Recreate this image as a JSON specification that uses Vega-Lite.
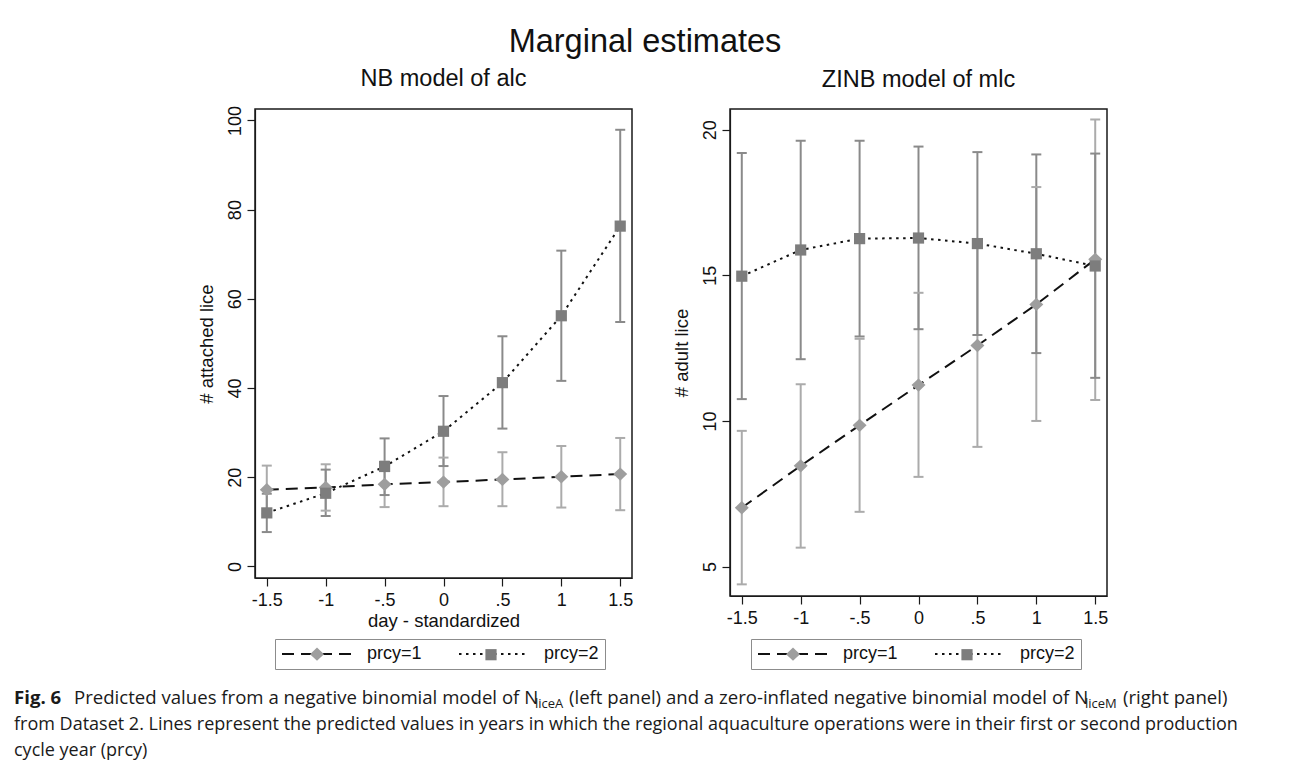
{
  "$schema": "https://vega.github.io/schema/vega-lite/v6.json",
  "padding": {"left": 14, "top": 25, "right": 5, "bottom": 5},
  "title": {"text": "Marginal estimates", "fontSize": 32.5, "anchor": "middle", "offset": 8, "fontWeight": "normal", "font": "Liberation Sans", "color": "#111"},
  "config": {
    "font": "Liberation Sans",
    "view": {"stroke": "#1a1a1a", "strokeWidth": 1.5},
    "axis": {"grid": false, "domainColor": "#1a1a1a", "tickColor": "#1a1a1a", "tickSize": 8, "tickWidth": 1.2, "domainWidth": 1.2,
             "labelFontSize": 18, "titleFontSize": 18.5, "titleFontWeight": "normal", "labelColor": "#111", "titleColor": "#111",
             "labelFont": "Liberation Sans", "titleFont": "Liberation Sans", "labelFlush": false, "labelOverlap": false},
    "title": {"font": "Liberation Sans", "fontWeight": "normal", "color": "#111"}
  },
  "datasets": {
    "alc": [
      {"day": -1.5, "prcy": "prcy=1", "est": 17.2, "lo": 11.8, "hi": 22.6},
      {"day": -1, "prcy": "prcy=1", "est": 17.7, "lo": 12.5, "hi": 22.9},
      {"day": -0.5, "prcy": "prcy=1", "est": 18.4, "lo": 13.3, "hi": 23.5},
      {"day": 0, "prcy": "prcy=1", "est": 18.9, "lo": 13.5, "hi": 24.4},
      {"day": 0.5, "prcy": "prcy=1", "est": 19.5, "lo": 13.5, "hi": 25.6},
      {"day": 1, "prcy": "prcy=1", "est": 20.1, "lo": 13.2, "hi": 27.0},
      {"day": 1.5, "prcy": "prcy=1", "est": 20.7, "lo": 12.6, "hi": 28.8},
      {"day": -1.5, "prcy": "prcy=2", "est": 12.0, "lo": 7.7, "hi": 16.3},
      {"day": -1, "prcy": "prcy=2", "est": 16.4, "lo": 11.3, "hi": 21.7},
      {"day": -0.5, "prcy": "prcy=2", "est": 22.4, "lo": 16.0, "hi": 28.7},
      {"day": 0, "prcy": "prcy=2", "est": 30.3, "lo": 22.5, "hi": 38.2},
      {"day": 0.5, "prcy": "prcy=2", "est": 41.2, "lo": 30.9, "hi": 51.6},
      {"day": 1, "prcy": "prcy=2", "est": 56.2, "lo": 41.6, "hi": 70.8},
      {"day": 1.5, "prcy": "prcy=2", "est": 76.3, "lo": 54.8, "hi": 97.9}
    ],
    "mlc": [
      {"day": -1.5, "prcy": "prcy=1", "est": 7.02, "lo": 4.39, "hi": 9.66},
      {"day": -1, "prcy": "prcy=1", "est": 8.46, "lo": 5.65, "hi": 11.26},
      {"day": -0.5, "prcy": "prcy=1", "est": 9.85, "lo": 6.88, "hi": 12.82},
      {"day": 0, "prcy": "prcy=1", "est": 11.23, "lo": 8.08, "hi": 14.4},
      {"day": 0.5, "prcy": "prcy=1", "est": 12.59, "lo": 9.11, "hi": 16.07},
      {"day": 1, "prcy": "prcy=1", "est": 14.0, "lo": 10.0, "hi": 18.03},
      {"day": 1.5, "prcy": "prcy=1", "est": 15.55, "lo": 10.72, "hi": 20.35},
      {"day": -1.5, "prcy": "prcy=2", "est": 14.97, "lo": 10.75, "hi": 19.2},
      {"day": -1, "prcy": "prcy=2", "est": 15.87, "lo": 12.12, "hi": 19.62},
      {"day": -0.5, "prcy": "prcy=2", "est": 16.26, "lo": 12.9, "hi": 19.62},
      {"day": 0, "prcy": "prcy=2", "est": 16.28, "lo": 13.15, "hi": 19.42},
      {"day": 0.5, "prcy": "prcy=2", "est": 16.09, "lo": 12.95, "hi": 19.23},
      {"day": 1, "prcy": "prcy=2", "est": 15.74, "lo": 12.33, "hi": 19.15},
      {"day": 1.5, "prcy": "prcy=2", "est": 15.32, "lo": 11.48, "hi": 19.18}
    ],
    "cap": [
      {"row": 1, "part": "fig", "text": "Fig. 6"},
      {"row": 1, "part": "a", "text": "Predicted values from a negative binomial model of N"},
      {"row": 1, "part": "subA", "text": "liceA"},
      {"row": 1, "part": "b", "text": "(left panel) and a zero-inflated negative binomial model of N"},
      {"row": 1, "part": "subM", "text": "liceM"},
      {"row": 1, "part": "c", "text": "(right panel)"},
      {"row": 2, "part": "l", "text": "from Dataset 2. Lines represent the predicted values in years in which the regional aquaculture operations were in their first or second production"},
      {"row": 3, "part": "l", "text": "cycle year (prcy)"}
    ]
  },
  "spacing": 17,
  "vconcat": [
    {
      "spacing": 37,
      "resolve": {
        "scale": {"strokeDash": "independent", "shape": "independent", "fill": "independent", "stroke": "independent"},
        "legend": {"strokeDash": "independent", "shape": "independent"}
      },
      "hconcat": [
        {
          "width": 145, "height": 20,
          "view": {"stroke": null},
          "data": {"values": [{}]},
          "mark": {"type": "text", "text": ""}
        },
        {
          "width": 377, "height": 469,
          "title": {"text": "NB model of alc", "fontSize": 23.5, "offset": 15},
          "data": {"name": "alc"},
          "layer": [
            {
              "mark": {"type": "rule", "strokeWidth": 2},
              "encoding": {
                "x": {"field": "day", "type": "quantitative", "scale": {"domain": [-1.6, 1.6], "nice": false, "zero": false},
                      "axis": {"values": [-1.5, -1, -0.5, 0, 0.5, 1, 1.5], "title": "day - standardized", "labelPadding": 5, "titlePadding": 2,
                               "labelExpr": "datum.value < 0 ? '-' + replace(format(-datum.value, '~g'), '0.', '.') : replace(format(datum.value, '~g'), '0.', '.')"}},
                "y": {"field": "lo", "type": "quantitative", "scale": {"domain": [-2.6, 102.56], "nice": false, "zero": false},
                      "axis": {"values": [0, 20, 40, 60, 80, 100], "title": "# attached lice", "labelAngle": 270, "labelAlign": "center", "labelBaseline": "bottom", "labelPadding": 3, "titlePadding": 10}},
                "y2": {"field": "hi"},
                "stroke": {"field": "prcy", "type": "nominal", "scale": {"range": ["#ababab", "#8a8a8a"]}, "legend": null}
              }
            },
            {
              "mark": {"type": "point", "shape": "stroke", "size": 100, "strokeWidth": 2, "filled": false, "opacity": 1},
              "encoding": {
                "x": {"field": "day", "type": "quantitative"},
                "y": {"field": "lo", "type": "quantitative"},
                "stroke": {"field": "prcy", "type": "nominal", "legend": null}
              }
            },
            {
              "mark": {"type": "point", "shape": "stroke", "size": 100, "strokeWidth": 2, "filled": false, "opacity": 1},
              "encoding": {
                "x": {"field": "day", "type": "quantitative"},
                "y": {"field": "hi", "type": "quantitative"},
                "stroke": {"field": "prcy", "type": "nominal", "legend": null}
              }
            },
            {
              "mark": {"type": "line", "strokeWidth": 2, "color": "#111"},
              "encoding": {
                "x": {"field": "day", "type": "quantitative"},
                "y": {"field": "est", "type": "quantitative"},
                "strokeDash": {"field": "prcy", "type": "nominal", "scale": {"domain": ["prcy=1", "prcy=2"], "range": [[12, 7], [2.5, 4.5]]},
                  "legend": {"orient": "none", "legendX": 20, "legendY": 530, "direction": "horizontal", "columns": 2, "title": null,
                             "strokeColor": "#8c8c8c", "fillColor": "white", "padding": 6, "columnPadding": 33, "labelOffset": 41, "symbolOffset": 27,
                             "labelFontSize": 18, "labelFont": "Liberation Sans", "labelColor": "#111",
                             "symbolSize": 196, "symbolType": "M-5,0H5", "symbolStrokeWidth": 2, "symbolStrokeColor": "#111",
                             "labelExpr": "datum.label == 'prcy=2' ? datum.label + ' ' : datum.label"}}
              }
            },
            {
              "mark": {"type": "point", "filled": true, "opacity": 1, "size": 196, "strokeWidth": 0},
              "encoding": {
                "x": {"field": "day", "type": "quantitative"},
                "y": {"field": "est", "type": "quantitative"},
                "fill": {"field": "prcy", "type": "nominal", "scale": {"range": ["#9e9e9e", "#7d7d7d"]}, "legend": null},
                "shape": {"field": "prcy", "type": "nominal", "scale": {"range": ["M-1,0L0,-0.95L1,0L0,0.95Z", "M-0.8,-0.8H0.8V0.8H-0.8Z"]},
                  "legend": {"orient": "none", "legendX": 20, "legendY": 530, "direction": "horizontal", "columns": 2, "title": null,
                             "padding": 6, "columnPadding": 33, "labelOffset": 41, "symbolOffset": 27,
                             "labelFontSize": 18, "labelFont": "Liberation Sans", "labelOpacity": 0,
                             "symbolSize": 196, "symbolStrokeWidth": 2, "symbolStrokeColor": "transparent",
                             "labelExpr": "datum.label == 'prcy=2' ? datum.label + ' ' : datum.label",
                             "encode": {"symbols": {"update": {
                               "fill": {"signal": "datum.value == 'prcy=1' ? '#9e9e9e' : '#7d7d7d'"},
                               "fillOpacity": {"value": 1},
                               "strokeWidth": {"value": 0}}}}}}
              }
            }
          ]
        },
        {
          "width": 377, "height": 487,
          "title": {"text": "ZINB model of mlc", "fontSize": 23.5, "offset": 18},
          "data": {"name": "mlc"},
          "layer": [
            {
              "mark": {"type": "rule", "strokeWidth": 2},
              "encoding": {
                "x": {"field": "day", "type": "quantitative", "scale": {"domain": [-1.6, 1.6], "nice": false, "zero": false},
                      "axis": {"values": [-1.5, -1, -0.5, 0, 0.5, 1, 1.5], "title": null, "labelPadding": 5,
                               "labelExpr": "datum.value < 0 ? '-' + replace(format(-datum.value, '~g'), '0.', '.') : replace(format(datum.value, '~g'), '0.', '.')"}},
                "y": {"field": "lo", "type": "quantitative", "scale": {"domain": [3.99, 20.71], "nice": false, "zero": false},
                      "axis": {"values": [5, 10, 15, 20], "title": "# adult lice", "labelAngle": 270, "labelAlign": "center", "labelBaseline": "bottom", "labelPadding": 3, "titlePadding": 10}},
                "y2": {"field": "hi"},
                "stroke": {"field": "prcy", "type": "nominal", "scale": {"range": ["#ababab", "#8a8a8a"]}, "legend": null}
              }
            },
            {
              "mark": {"type": "point", "shape": "stroke", "size": 100, "strokeWidth": 2, "filled": false, "opacity": 1},
              "encoding": {
                "x": {"field": "day", "type": "quantitative"},
                "y": {"field": "lo", "type": "quantitative"},
                "stroke": {"field": "prcy", "type": "nominal", "legend": null}
              }
            },
            {
              "mark": {"type": "point", "shape": "stroke", "size": 100, "strokeWidth": 2, "filled": false, "opacity": 1},
              "encoding": {
                "x": {"field": "day", "type": "quantitative"},
                "y": {"field": "hi", "type": "quantitative"},
                "stroke": {"field": "prcy", "type": "nominal", "legend": null}
              }
            },
            {
              "mark": {"type": "line", "strokeWidth": 2, "color": "#111"},
              "encoding": {
                "x": {"field": "day", "type": "quantitative"},
                "y": {"field": "est", "type": "quantitative"},
                "strokeDash": {"field": "prcy", "type": "nominal", "scale": {"domain": ["prcy=1", "prcy=2"], "range": [[12, 7], [2.5, 4.5]]},
                  "legend": {"orient": "none", "legendX": 21, "legendY": 530, "direction": "horizontal", "columns": 2, "title": null,
                             "strokeColor": "#8c8c8c", "fillColor": "white", "padding": 6, "columnPadding": 33, "labelOffset": 41, "symbolOffset": 27,
                             "labelFontSize": 18, "labelFont": "Liberation Sans", "labelColor": "#111",
                             "symbolSize": 196, "symbolType": "M-5,0H5", "symbolStrokeWidth": 2, "symbolStrokeColor": "#111",
                             "labelExpr": "datum.label == 'prcy=2' ? datum.label + ' ' : datum.label"}}
              }
            },
            {
              "mark": {"type": "point", "filled": true, "opacity": 1, "size": 196, "strokeWidth": 0},
              "encoding": {
                "x": {"field": "day", "type": "quantitative"},
                "y": {"field": "est", "type": "quantitative"},
                "fill": {"field": "prcy", "type": "nominal", "scale": {"range": ["#9e9e9e", "#7d7d7d"]}, "legend": null},
                "shape": {"field": "prcy", "type": "nominal", "scale": {"range": ["M-1,0L0,-0.95L1,0L0,0.95Z", "M-0.8,-0.8H0.8V0.8H-0.8Z"]},
                  "legend": {"orient": "none", "legendX": 21, "legendY": 530, "direction": "horizontal", "columns": 2, "title": null,
                             "padding": 6, "columnPadding": 33, "labelOffset": 41, "symbolOffset": 27,
                             "labelFontSize": 18, "labelFont": "Liberation Sans", "labelOpacity": 0,
                             "symbolSize": 196, "symbolStrokeWidth": 2, "symbolStrokeColor": "transparent",
                             "labelExpr": "datum.label == 'prcy=2' ? datum.label + ' ' : datum.label",
                             "encode": {"symbols": {"update": {
                               "fill": {"signal": "datum.value == 'prcy=1' ? '#9e9e9e' : '#7d7d7d'"},
                               "fillOpacity": {"value": 1},
                               "strokeWidth": {"value": 0}}}}}}
              }
            }
          ]
        }
      ]
    },
    {
      "width": 1262, "height": 52,
      "view": {"stroke": null},
      "data": {"name": "cap"},
      "encoding": {
        "y": {"field": "row", "type": "ordinal", "scale": {"type": "point", "padding": 0}, "axis": null},
        "text": {"field": "text"}
      },
      "layer": [
        {"transform": [{"filter": "datum.part == 'fig'"}], "mark": {"type": "text", "align": "left", "baseline": "alphabetic", "x": 0, "font": "Open Sans", "fontSize": 18.6, "fontWeight": "bold", "color": "#1a1a1a"}},
        {"transform": [{"filter": "datum.part == 'a'"}], "mark": {"type": "text", "align": "left", "baseline": "alphabetic", "x": 60, "font": "Open Sans", "fontSize": 18.6, "color": "#1a1a1a"}},
        {"transform": [{"filter": "datum.part == 'subA'"}], "mark": {"type": "text", "align": "left", "baseline": "alphabetic", "x": 521, "dy": 4, "font": "Open Sans", "fontSize": 13, "color": "#1a1a1a"}},
        {"transform": [{"filter": "datum.part == 'b'"}], "mark": {"type": "text", "align": "left", "baseline": "alphabetic", "x": 555, "font": "Open Sans", "fontSize": 18.6, "color": "#1a1a1a"}},
        {"transform": [{"filter": "datum.part == 'subM'"}], "mark": {"type": "text", "align": "left", "baseline": "alphabetic", "x": 1071, "dy": 4, "font": "Open Sans", "fontSize": 13, "color": "#1a1a1a"}},
        {"transform": [{"filter": "datum.part == 'c'"}], "mark": {"type": "text", "align": "left", "baseline": "alphabetic", "x": 1109, "font": "Open Sans", "fontSize": 18.6, "color": "#1a1a1a"}},
        {"transform": [{"filter": "datum.part == 'l'"}], "mark": {"type": "text", "align": "left", "baseline": "alphabetic", "x": 0, "font": "Open Sans", "fontSize": 18, "color": "#1a1a1a"}}
      ]
    }
  ]
}
